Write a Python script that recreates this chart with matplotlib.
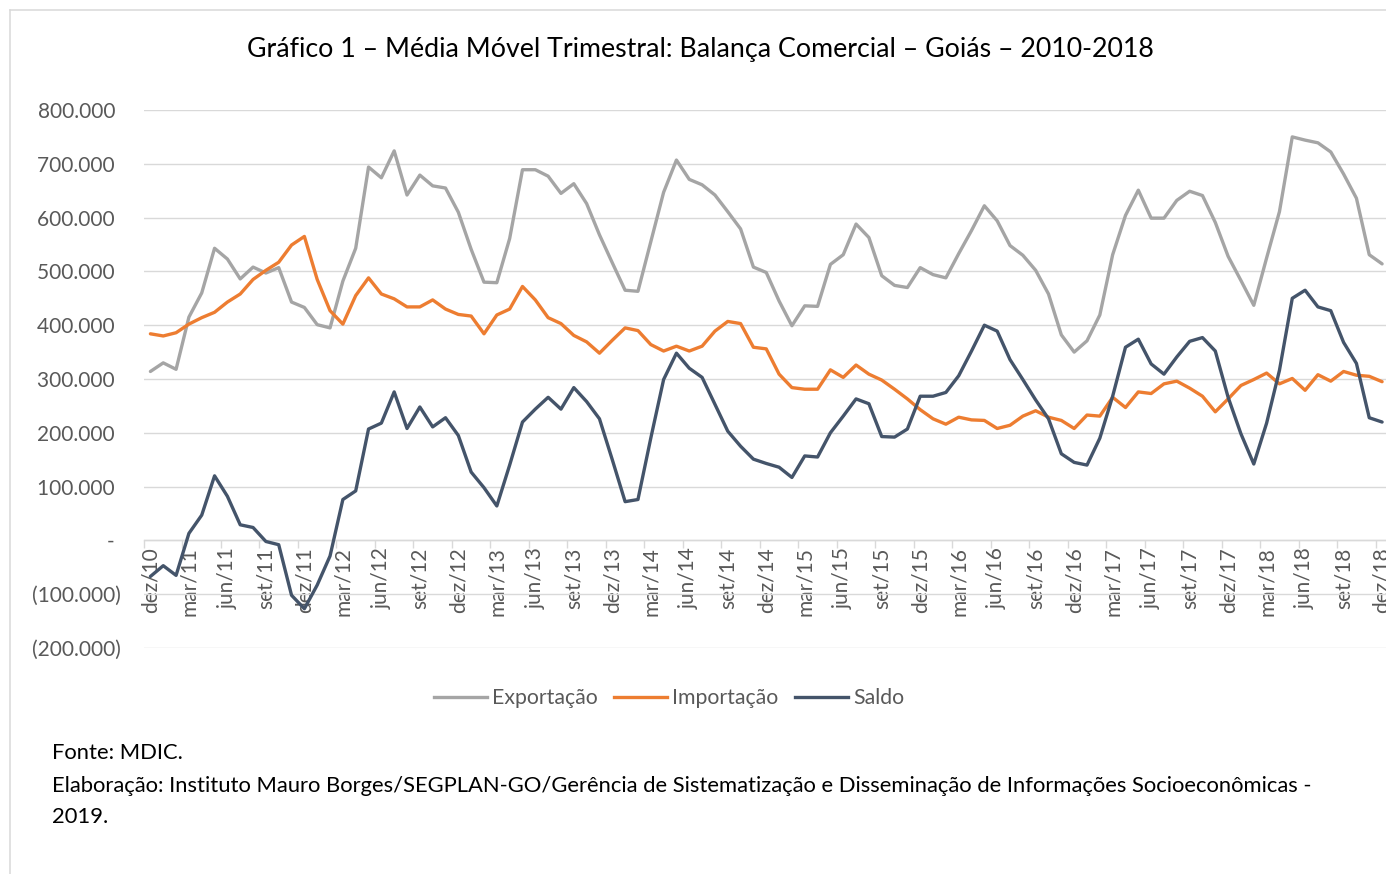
import matplotlib
matplotlib.use("Agg")
import matplotlib.pyplot as plt
from matplotlib.lines import Line2D
from matplotlib.ticker import FixedLocator, FuncFormatter

# ---------------- data (values in R$ thousand -> scaled below) ----------------
exportacao = [314, 330, 318, 415, 460, 543, 523, 486, 508, 497, 507, 443, 433, 401, 395, 482,
              543, 694, 674, 724, 642, 679, 659, 655, 610, 541, 480, 479, 561, 689, 689, 677, 645,
              663, 626, 568, 516, 465, 463, 555, 647, 707, 671, 661, 642, 611, 579, 508, 498,
              445, 399, 436, 435, 513, 531, 588, 563, 492, 474, 470, 507, 494, 488, 533, 576, 622,
              594, 548, 530, 502, 458, 382, 350, 371, 419, 531, 604, 651, 599, 599, 632, 649,
              641, 591, 528, 483, 437, 525, 611, 750, 744, 739, 722, 681, 636, 531, 514]

importacao = [384, 380, 386, 402, 414, 424, 443, 458, 485, 502, 517, 549, 565, 485, 427, 402,
              455, 488, 458, 449, 434, 434, 447, 430, 420, 417, 384, 419, 430, 472, 447, 414, 403,
              381, 369, 348, 372, 395, 390, 364, 352, 361, 352, 361, 389, 407, 403, 359, 356,
              309, 284, 281, 281, 317, 303, 326, 309, 298, 281, 263, 243, 226, 216, 229, 224, 223,
              208, 214, 231, 241, 229, 223, 208, 233, 231, 266, 247, 276, 273, 291, 296, 283,
              268, 239, 263, 288, 299, 311, 291, 301, 279, 308, 296, 314, 307, 305, 295]

saldo = [-67, -47, -65, 13, 47, 120, 82, 29, 24, -2, -8, -102, -127, -83, -29, 76,
         92, 207, 218, 276, 208, 248, 211, 228, 195, 127, 98, 64, 140, 220, 244, 266, 244,
         284, 258, 226, 150, 72, 76, 190, 299, 348, 320, 303, 253, 203, 175, 151, 143,
         136, 117, 157, 155, 200, 231, 263, 254, 193, 192, 207, 268, 268, 275, 306, 352, 400,
         389, 336, 299, 261, 226, 161, 145, 140, 190, 268, 359, 374, 328, 309, 341, 370,
         377, 352, 266, 198, 142, 218, 316, 450, 465, 434, 427, 368, 329, 228, 220]

tick_labels = ["dez/10", "mar/11", "jun/11", "set/11", "dez/11", "mar/12", "jun/12", "set/12",
               "dez/12", "mar/13", "jun/13", "set/13", "dez/13", "mar/14", "jun/14", "set/14",
               "dez/14", "mar/15", "jun/15", "set/15", "dez/15", "mar/16", "jun/16", "set/16",
               "dez/16", "mar/17", "jun/17", "set/17", "dez/17", "mar/18", "jun/18", "set/18",
               "dez/18"]

series_names = ["Exportação", "Importação", "Saldo"]
series_colors = ["#A5A5A5", "#ED7D31", "#44546A"]

title = "Gráfico 1 – Média Móvel Trimestral: Balança Comercial – Goiás – 2010-2018"
footer_lines = ["Fonte: MDIC.",
                "Elaboração: Instituto Mauro Borges/SEGPLAN-GO/Gerência de Sistematização e Disseminação de Informações Socioeconômicas -",
                "2019."]

# ---------------- figure ----------------
W, H = 1386, 874
plt.rcParams['font.family'] = ['Lato', 'DejaVu Sans']
fig = plt.figure(figsize=(W / 100, H / 100), dpi=100)
fig.patch.set_facecolor("white")

def fx(px):
    return px / W

def fy(py):
    return 1 - py / H

# outer chart border (top and left visible)
fig.add_artist(Line2D([fx(10), 1.01], [fy(10), fy(10)], color="#D9D9D9", lw=1.1,
                      transform=fig.transFigure))
fig.add_artist(Line2D([fx(10), fx(10)], [fy(10), -0.01], color="#D9D9D9", lw=1.1,
                      transform=fig.transFigure))

ax_left, ax_right = 144, 1388.5
ax_top, ax_bot = 110, 648
ax = fig.add_axes([fx(ax_left), fy(ax_bot), (ax_right - ax_left) / W, (ax_bot - ax_top) / H])

n = len(exportacao)
x = list(range(n))
datas = [exportacao, importacao, saldo]
for vals, name, col in zip(datas, series_names, series_colors):
    ax.plot(x, [v * 1000 for v in vals], color=col, lw=2.4, label=name,
            solid_joinstyle="round", solid_capstyle="round", zorder=3)

ax.set_xlim(-0.5, n - 0.5)
ax.set_ylim(-200000, 800000)

# y axis
yt = list(range(-200000, 800001, 100000))
ax.yaxis.set_major_locator(FixedLocator(yt))

def yfmt(v, pos):
    v = int(round(v))
    if v == 0:
        return "- "
    s = f"{abs(v):,}".replace(",", ".")
    return f"({s})" if v < 0 else s + " "

ax.yaxis.set_major_formatter(FuncFormatter(yfmt))
ax.tick_params(axis="y", length=0, pad=17, labelsize=15, labelcolor="#595959")
ax.grid(axis="y", color="#D9D9D9", lw=1.0, zorder=0)

# x axis: ticks between categories, labels at category centers
ax.spines["bottom"].set_position(("data", 0))
ax.spines["bottom"].set_color("#D9D9D9")
ax.spines["bottom"].set_linewidth(1.0)
for s in ["top", "right", "left"]:
    ax.spines[s].set_visible(False)

tick_pos = list(range(0, n, 3))
ax.xaxis.set_major_locator(FixedLocator([p - 0.5 for p in tick_pos]))
ax.xaxis.set_major_formatter(FuncFormatter(lambda v, p: ""))
ax.xaxis.set_minor_locator(FixedLocator(tick_pos))
ax.set_xticklabels(tick_labels, minor=True)
ax.tick_params(axis="x", which="major", length=6, width=1.0, color="#D9D9D9", direction="out")
ax.tick_params(axis="x", which="minor", length=0, pad=5, labelsize=15, labelcolor="#595959",
               labelrotation=90)

# title
fig.text(fx(700), fy(50), title, ha="center", va="center", fontsize=19.25, color="#000000")

# legend
handles = [Line2D([0], [0], color=c, lw=2.4) for c in series_colors]
fig.legend(handles, series_names, loc="center", bbox_to_anchor=(fx(669), fy(698)), ncol=3,
           frameon=False, fontsize=15.3, labelcolor="#595959", handlelength=2.5,
           handletextpad=0.25, columnspacing=0.75)

# footer
for txt, yy in zip(footer_lines, [753, 786, 817]):
    fig.text(fx(52), fy(yy), txt, ha="left", va="center", fontsize=15.8, color="#000000")

fig.savefig("out.png", dpi=100, facecolor="white")
